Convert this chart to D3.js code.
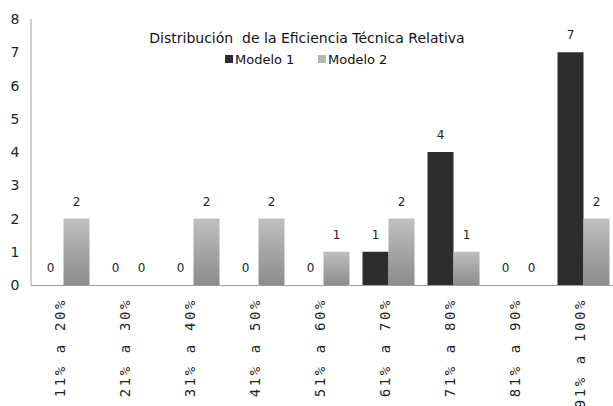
<!DOCTYPE html>
<html>
<head>
<meta charset="utf-8">
<script src="https://cdn.jsdelivr.net/npm/d3@7"></script>
<style>
  body { margin: 0; background: #fff; }
  svg { display: block; }
</style>
</head>
<body>
<div id="chart"></div>
<script>
// Data
const categories = ["11% a 20%", "21% a 30%", "31% a 40%", "41% a 50%", "51% a 60%",
                    "61% a 70%", "71% a 80%", "81% a 90%", "91% a 100%"];
const seriesNames = ["Modelo 1", "Modelo 2"];
const modelo1 = [0, 0, 0, 0, 0, 1, 4, 0, 7];
const modelo2 = [2, 0, 2, 2, 1, 2, 1, 0, 2];
const yTicks = [0, 1, 2, 3, 4, 5, 6, 7, 8];

const width = 613;
const height = 406;

const svg = d3.select('#chart')
    .append('svg')
    .attr('width', width)
    .attr('height', height);

// gradient for the light bars
const defs = svg.append('defs');
const grad = defs.append('linearGradient')
    .attr('id', 'lightGrad')
    .attr('x1', 0).attr('y1', 0).attr('x2', 0).attr('y2', 1);
grad.append('stop').attr('offset', '0%').attr('stop-color', '#bfbfbf');
grad.append('stop').attr('offset', '100%').attr('stop-color', '#8c8c8c');

const colors = ['#2d2d2d', 'url(#lightGrad)'];

// Scales
const x0 = d3.scaleBand()
    .domain(categories)
    .range([31, 616])
    .paddingInner(0.2)
    .paddingOuter(0.1);

const x1 = d3.scaleBand()
    .domain(seriesNames)
    .range([0, x0.bandwidth()]);

const y = d3.scaleLinear()
    .domain([0, 8])
    .range([285, 19]);

// Y tick labels
svg.append('g')
    .selectAll('text')
    .data(yTicks)
    .join('text')
    .attr('x', 15)
    .attr('y', d => y(d) + 5)
    .attr('text-anchor', 'middle')
    .attr('font-family', 'DejaVu Sans, sans-serif')
    .attr('font-size', 14)
    .attr('fill', '#222')
    .text(d => d);

// Bars
const rows = categories.map((c, i) => ({ cat: c, values: [modelo1[i], modelo2[i]] }));

const groups = svg.append('g')
    .selectAll('g')
    .data(rows)
    .join('g')
    .attr('transform', d => `translate(${x0(d.cat)},0)`);

groups.selectAll('rect')
    .data(d => d.values.map((v, k) => ({ key: seriesNames[k], value: v, k })))
    .join('rect')
    .attr('x', d => x1(d.key))
    .attr('y', d => y(d.value))
    .attr('width', x1.bandwidth())
    .attr('height', d => y(0) - y(d.value))
    .attr('fill', d => colors[d.k]);

groups.selectAll('text.val')
    .data(d => d.values.map((v, k) => ({ key: seriesNames[k], value: v })))
    .join('text')
    .attr('class', 'val')
    .attr('x', d => x1(d.key) + x1.bandwidth() / 2)
    .attr('y', d => y(d.value) - 13)
    .attr('text-anchor', 'middle')
    .attr('font-family', 'DejaVu Sans, sans-serif')
    .attr('font-size', 12)
    .attr('fill', '#222')
    .text(d => d.value);

// Axis lines
svg.append('line')
    .attr('x1', 31).attr('x2', 31)
    .attr('y1', 19).attr('y2', y(0))
    .attr('stroke', '#a0a0a0').attr('stroke-width', 1);
svg.append('line')
    .attr('x1', 31).attr('x2', width)
    .attr('y1', y(0) + 0.5).attr('y2', y(0) + 0.5)
    .attr('stroke', '#a0a0a0').attr('stroke-width', 1);

// Category labels (rotated), the last one runs off the bottom like in the original
svg.append('g')
    .selectAll('text')
    .data(categories)
    .join('text')
    .attr('transform', d => `translate(${x0(d) + x0.bandwidth() / 2 + 1},298) rotate(-90)`)
    .attr('text-anchor', 'end')
    .attr('font-family', 'DejaVu Sans Mono, monospace')
    .attr('font-size', 14)
    .attr('letter-spacing', 2.6)
    .attr('fill', '#222')
    .text(d => d);

// Title (keeps the double space of the original)
svg.append('text')
    .attr('x', 307)
    .attr('y', 43)
    .attr('text-anchor', 'middle')
    .attr('font-family', 'DejaVu Sans, sans-serif')
    .attr('font-size', 14)
    .attr('fill', '#111')
    .style('white-space', 'pre')
    .text('Distribución  de la Eficiencia Técnica Relativa');

// Legend
const legend = svg.append('g')
    .attr('transform', 'translate(225,59)');
const legendItems = legend.selectAll('g')
    .data(seriesNames)
    .join('g')
    .attr('transform', (d, i) => `translate(${i * 93},0)`);
legendItems.append('rect')
    .attr('x', 0).attr('y', -4)
    .attr('width', 8).attr('height', 8)
    .attr('fill', (d, i) => i === 0 ? '#2d2d2d' : '#b5b5b5');
legendItems.append('text')
    .attr('x', 10)
    .attr('y', 5)
    .attr('font-family', 'DejaVu Sans, sans-serif')
    .attr('font-size', 13)
    .attr('fill', '#111')
    .text(d => d);
</script>
</body>
</html>
